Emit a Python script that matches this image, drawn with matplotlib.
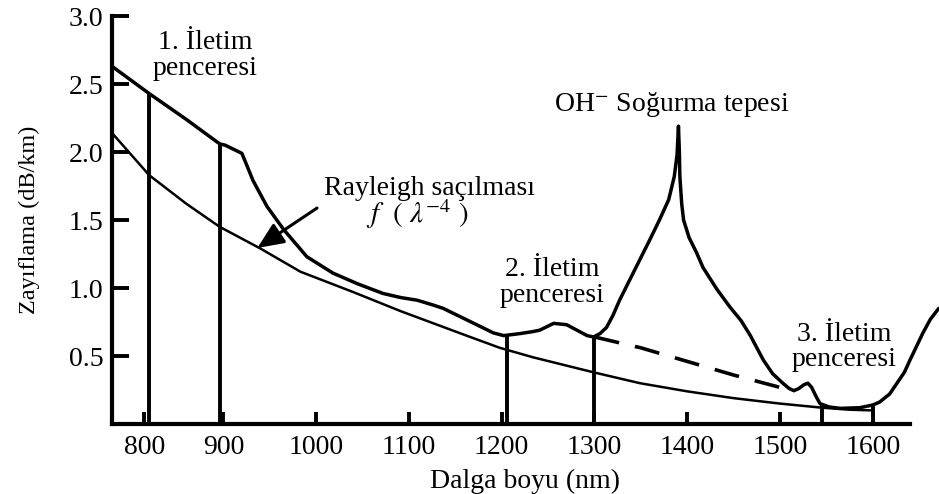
import numpy as np
import matplotlib
matplotlib.use("Agg")
import matplotlib.pyplot as plt

plt.rcParams['font.family'] = ['Liberation Serif', 'DejaVu Serif']
plt.rcParams['mathtext.fontset'] = 'stix'

# ---- data ----
main_nm = [780, 820, 860, 896, 902, 920, 932, 947, 965, 990, 1018, 1045, 1072, 1091,
           1109, 1126, 1137, 1155, 1173, 1191, 1202, 1220, 1234, 1241, 1256, 1270,
           1281, 1292, 1299, 1306, 1313, 1320, 1327, 1338, 1349, 1360, 1370, 1380,
           1386, 1389, 1390.5, 1391.5, 1392, 1394, 1396, 1402, 1410, 1417, 1432,
           1446, 1458, 1468, 1475, 1482, 1492, 1503, 1510, 1515, 1520, 1526, 1530,
           1534, 1539, 1543, 1553, 1565, 1586, 1600, 1607, 1618, 1626, 1634, 1640,
           1647, 1654, 1662, 1671]
main_db = [2.63, 2.43, 2.24, 2.06, 2.05, 1.99, 1.79, 1.60, 1.43, 1.23, 1.11, 1.03, 0.96, 0.93,
           0.91, 0.875, 0.85, 0.79, 0.73, 0.67, 0.65, 0.665, 0.68, 0.69, 0.74, 0.73,
           0.69, 0.65, 0.64, 0.665, 0.71, 0.80, 0.91, 1.06, 1.21, 1.36, 1.50, 1.65,
           1.82, 1.98, 2.19, 2.00, 1.82, 1.62, 1.50, 1.37, 1.26, 1.15, 0.99,
           0.86, 0.76, 0.65, 0.56, 0.47, 0.37, 0.30, 0.26, 0.245, 0.26, 0.29, 0.30,
           0.27, 0.20, 0.15, 0.125, 0.115, 0.12, 0.14, 0.16, 0.22, 0.30, 0.38, 0.47,
           0.57, 0.67, 0.77, 0.85]

ray_nm = [780, 820, 860, 896, 940, 983, 1040, 1091, 1162, 1198, 1234, 1299, 1349,
          1400, 1450, 1500, 1545, 1575, 1600]
ray_db = [2.14, 1.83, 1.62, 1.45, 1.29, 1.12, 0.97, 0.83, 0.65, 0.56, 0.49, 0.38, 0.30,
          0.24, 0.19, 0.15, 0.12, 0.105, 0.10]

dash_nm = [1300, 1350, 1400, 1450, 1516]
dash_db = [0.64, 0.56, 0.46, 0.36, 0.24]

win_nm = [820, 896, 1206, 1300, 1545, 1600]

xtick_pos = [815, 900, 1000, 1100, 1200, 1300, 1400, 1500, 1600]
xtick_lab = ["800", "900", "1000", "1100", "1200", "1300", "1400", "1500", "1600"]
ytick_pos = [0.5, 1.0, 1.5, 2.0, 2.5, 3.0]
ytick_lab = ["0.5", "1.0", "1.5", "2.0", "2.5", "3.0"]

# ---- figure ----
fig = plt.figure(figsize=(9.39, 4.94), dpi=100)
ax = fig.add_axes([112/939, 70/494, 827/939, 408/494])

ax.plot(main_nm, main_db, color='k', lw=2.5, solid_joinstyle='round', solid_capstyle='round')
ax.plot(ray_nm, ray_db, color='k', lw=1.8)
ax.plot(dash_nm, dash_db, color='k', lw=2.6, dashes=(7, 4.5))

win_top = np.interp(win_nm, main_nm, main_db)
ax.vlines(win_nm, 0, win_top, color='k', lw=2.8)

ax.set_xlim(780, 1671.3)
ax.set_ylim(0, 3.0)
for s in ('top', 'right'):
    ax.spines[s].set_visible(False)
ax.spines['left'].set_linewidth(3)
ax.spines['bottom'].set_linewidth(3)
ax.spines['bottom'].set_bounds(780, 1640)
ax.spines['left'].set_bounds(0, 3.0)

ax.set_xticks(xtick_pos)
ax.set_xticklabels(xtick_lab)
ax.set_yticks(ytick_pos)
ax.set_yticklabels(ytick_lab)
ax.tick_params(axis='y', direction='in', length=12.5, width=2.8, labelsize=20, pad=6)
ax.tick_params(axis='x', direction='in', length=9, width=2.8, labelsize=20, pad=8)

ax.set_xlabel("Dalga boyu (nm)", fontsize=20, labelpad=6)
ax.set_ylabel("Zayıflama (dB/km)", fontsize=17.5)
ax.yaxis.set_label_coords(-0.087, 0.5)

fs = 20
ax.text(880.6, 2.71, "1. İletim\npenceresi", ha='center', va='center', fontsize=fs, linespacing=1.05)
ax.text(1254, 1.037, "2. İletim\npenceresi", ha='center', va='center', fontsize=fs, linespacing=1.05)
ax.text(1568.7, 0.566, "3. İletim\npenceresi", ha='center', va='center', fontsize=fs, linespacing=1.05)
ax.text(1383.5, 2.35, r"OH$^{-}$ Soğurma tepesi", ha='center', va='center', fontsize=fs)
ax.text(1121.8, 1.735, "Rayleigh saçılması", ha='center', va='center', fontsize=fs)
ax.text(1108.9, 1.54, r"$f\ \ (\ \lambda^{-4}\ )$", ha='center', va='center', fontsize=21)

ax.annotate('', xy=(936.6, 1.294), xytext=(1001, 1.588),
            arrowprops=dict(arrowstyle='-|>,head_length=0.8,head_width=0.35',
                            color='k', lw=2.2, mutation_scale=20,
                            shrinkA=0, shrinkB=0))

fig.savefig('out.png', dpi=100)
